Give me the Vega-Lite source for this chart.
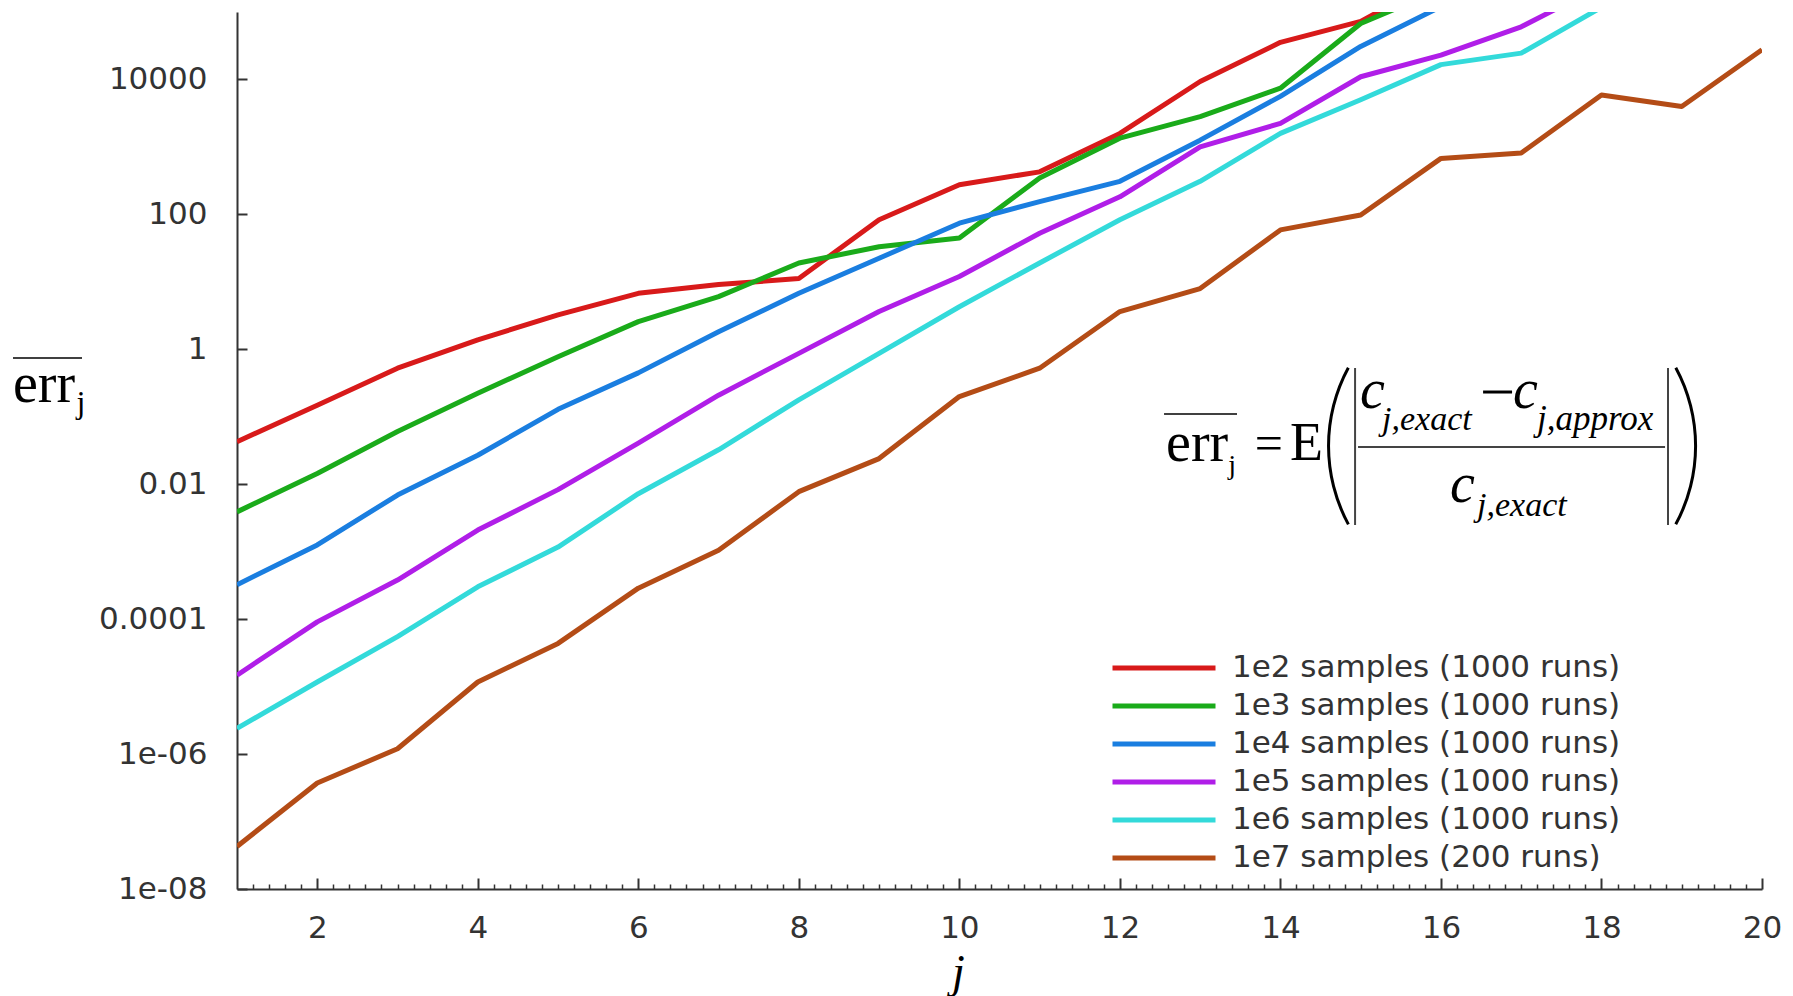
{
  "$schema": "https://vega.github.io/schema/vega-lite/v6.json",
  "width": 1525,
  "height": 877,
  "autosize": {"type": "none"},
  "padding": {"left": 237, "top": 12, "right": 31, "bottom": 107},
  "background": "white",
  "config": {"view": {"stroke": null}, "font": "DejaVu Sans"},
  "resolve": {"axis": {"x": "independent"}},
  "datasets": {
    "err": [
      {"series": "1e2 samples (1000 runs)", "j": 1, "err": 0.0427},
      {"series": "1e2 samples (1000 runs)", "j": 2, "err": 0.148},
      {"series": "1e2 samples (1000 runs)", "j": 3, "err": 0.525},
      {"series": "1e2 samples (1000 runs)", "j": 4, "err": 1.38},
      {"series": "1e2 samples (1000 runs)", "j": 5, "err": 3.24},
      {"series": "1e2 samples (1000 runs)", "j": 6, "err": 6.76},
      {"series": "1e2 samples (1000 runs)", "j": 7, "err": 9.12},
      {"series": "1e2 samples (1000 runs)", "j": 8, "err": 11.2},
      {"series": "1e2 samples (1000 runs)", "j": 9, "err": 83.2},
      {"series": "1e2 samples (1000 runs)", "j": 10, "err": 275},
      {"series": "1e2 samples (1000 runs)", "j": 11, "err": 427},
      {"series": "1e2 samples (1000 runs)", "j": 12, "err": 1585},
      {"series": "1e2 samples (1000 runs)", "j": 13, "err": 9333},
      {"series": "1e2 samples (1000 runs)", "j": 14, "err": 35480},
      {"series": "1e2 samples (1000 runs)", "j": 15, "err": 72440},
      {"series": "1e2 samples (1000 runs)", "j": 16, "err": 323600},
      {"series": "1e3 samples (1000 runs)", "j": 1, "err": 0.00389},
      {"series": "1e3 samples (1000 runs)", "j": 2, "err": 0.01445},
      {"series": "1e3 samples (1000 runs)", "j": 3, "err": 0.0603},
      {"series": "1e3 samples (1000 runs)", "j": 4, "err": 0.224},
      {"series": "1e3 samples (1000 runs)", "j": 5, "err": 0.776},
      {"series": "1e3 samples (1000 runs)", "j": 6, "err": 2.57},
      {"series": "1e3 samples (1000 runs)", "j": 7, "err": 6.03},
      {"series": "1e3 samples (1000 runs)", "j": 8, "err": 19.05},
      {"series": "1e3 samples (1000 runs)", "j": 9, "err": 33.1},
      {"series": "1e3 samples (1000 runs)", "j": 10, "err": 44.7},
      {"series": "1e3 samples (1000 runs)", "j": 11, "err": 346.7},
      {"series": "1e3 samples (1000 runs)", "j": 12, "err": 1349},
      {"series": "1e3 samples (1000 runs)", "j": 13, "err": 2818},
      {"series": "1e3 samples (1000 runs)", "j": 14, "err": 7413},
      {"series": "1e3 samples (1000 runs)", "j": 15, "err": 67610},
      {"series": "1e3 samples (1000 runs)", "j": 16, "err": 213800},
      {"series": "1e4 samples (1000 runs)", "j": 1, "err": 0.000324},
      {"series": "1e4 samples (1000 runs)", "j": 2, "err": 0.00126},
      {"series": "1e4 samples (1000 runs)", "j": 3, "err": 0.00692},
      {"series": "1e4 samples (1000 runs)", "j": 4, "err": 0.0269},
      {"series": "1e4 samples (1000 runs)", "j": 5, "err": 0.129},
      {"series": "1e4 samples (1000 runs)", "j": 6, "err": 0.447},
      {"series": "1e4 samples (1000 runs)", "j": 7, "err": 1.82},
      {"series": "1e4 samples (1000 runs)", "j": 8, "err": 6.76},
      {"series": "1e4 samples (1000 runs)", "j": 9, "err": 22.4},
      {"series": "1e4 samples (1000 runs)", "j": 10, "err": 74.1},
      {"series": "1e4 samples (1000 runs)", "j": 11, "err": 154.9},
      {"series": "1e4 samples (1000 runs)", "j": 12, "err": 309},
      {"series": "1e4 samples (1000 runs)", "j": 13, "err": 1259},
      {"series": "1e4 samples (1000 runs)", "j": 14, "err": 5623},
      {"series": "1e4 samples (1000 runs)", "j": 15, "err": 30900},
      {"series": "1e4 samples (1000 runs)", "j": 16, "err": 120200},
      {"series": "1e5 samples (1000 runs)", "j": 1, "err": 0.0000148},
      {"series": "1e5 samples (1000 runs)", "j": 2, "err": 0.0000912},
      {"series": "1e5 samples (1000 runs)", "j": 3, "err": 0.00038},
      {"series": "1e5 samples (1000 runs)", "j": 4, "err": 0.00209},
      {"series": "1e5 samples (1000 runs)", "j": 5, "err": 0.00832},
      {"series": "1e5 samples (1000 runs)", "j": 6, "err": 0.0407},
      {"series": "1e5 samples (1000 runs)", "j": 7, "err": 0.209},
      {"series": "1e5 samples (1000 runs)", "j": 8, "err": 0.871},
      {"series": "1e5 samples (1000 runs)", "j": 9, "err": 3.63},
      {"series": "1e5 samples (1000 runs)", "j": 10, "err": 12.0},
      {"series": "1e5 samples (1000 runs)", "j": 11, "err": 52.5},
      {"series": "1e5 samples (1000 runs)", "j": 12, "err": 182},
      {"series": "1e5 samples (1000 runs)", "j": 13, "err": 1000},
      {"series": "1e5 samples (1000 runs)", "j": 14, "err": 2239},
      {"series": "1e5 samples (1000 runs)", "j": 15, "err": 10960},
      {"series": "1e5 samples (1000 runs)", "j": 16, "err": 22910},
      {"series": "1e5 samples (1000 runs)", "j": 17, "err": 60260},
      {"series": "1e5 samples (1000 runs)", "j": 18, "err": 245500},
      {"series": "1e6 samples (1000 runs)", "j": 1, "err": 0.0000024},
      {"series": "1e6 samples (1000 runs)", "j": 2, "err": 0.0000117},
      {"series": "1e6 samples (1000 runs)", "j": 3, "err": 0.000055},
      {"series": "1e6 samples (1000 runs)", "j": 4, "err": 0.000302},
      {"series": "1e6 samples (1000 runs)", "j": 5, "err": 0.00117},
      {"series": "1e6 samples (1000 runs)", "j": 6, "err": 0.00724},
      {"series": "1e6 samples (1000 runs)", "j": 7, "err": 0.0324},
      {"series": "1e6 samples (1000 runs)", "j": 8, "err": 0.178},
      {"series": "1e6 samples (1000 runs)", "j": 9, "err": 0.871},
      {"series": "1e6 samples (1000 runs)", "j": 10, "err": 4.27},
      {"series": "1e6 samples (1000 runs)", "j": 11, "err": 19.05},
      {"series": "1e6 samples (1000 runs)", "j": 12, "err": 83.2},
      {"series": "1e6 samples (1000 runs)", "j": 13, "err": 309},
      {"series": "1e6 samples (1000 runs)", "j": 14, "err": 1585},
      {"series": "1e6 samples (1000 runs)", "j": 15, "err": 5012},
      {"series": "1e6 samples (1000 runs)", "j": 16, "err": 16600},
      {"series": "1e6 samples (1000 runs)", "j": 17, "err": 24550},
      {"series": "1e6 samples (1000 runs)", "j": 18, "err": 117500},
      {"series": "1e7 samples (200 runs)", "j": 1, "err": 0.0000000427},
      {"series": "1e7 samples (200 runs)", "j": 2, "err": 0.000000372},
      {"series": "1e7 samples (200 runs)", "j": 3, "err": 0.0000012},
      {"series": "1e7 samples (200 runs)", "j": 4, "err": 0.0000117},
      {"series": "1e7 samples (200 runs)", "j": 5, "err": 0.0000437},
      {"series": "1e7 samples (200 runs)", "j": 6, "err": 0.000288},
      {"series": "1e7 samples (200 runs)", "j": 7, "err": 0.00105},
      {"series": "1e7 samples (200 runs)", "j": 8, "err": 0.00776},
      {"series": "1e7 samples (200 runs)", "j": 9, "err": 0.024},
      {"series": "1e7 samples (200 runs)", "j": 10, "err": 0.1995},
      {"series": "1e7 samples (200 runs)", "j": 11, "err": 0.525},
      {"series": "1e7 samples (200 runs)", "j": 12, "err": 3.63},
      {"series": "1e7 samples (200 runs)", "j": 13, "err": 7.94},
      {"series": "1e7 samples (200 runs)", "j": 14, "err": 58.9},
      {"series": "1e7 samples (200 runs)", "j": 15, "err": 97.7},
      {"series": "1e7 samples (200 runs)", "j": 16, "err": 676},
      {"series": "1e7 samples (200 runs)", "j": 17, "err": 813},
      {"series": "1e7 samples (200 runs)", "j": 18, "err": 5888},
      {"series": "1e7 samples (200 runs)", "j": 19, "err": 3981},
      {"series": "1e7 samples (200 runs)", "j": 20, "err": 27540}
    ]
  },
  "data": {"name": "err"},
  "layer": [
    {
      "mark": {"type": "line", "strokeWidth": 5, "clip": true, "strokeJoin": "round"},
      "encoding": {
        "x": {
          "field": "j",
          "type": "quantitative",
          "scale": {"domain": [1, 20], "nice": false, "zero": false},
          "axis": {
            "orient": "bottom",
            "title": "j",
            "titleFont": "Liberation Serif",
            "titleFontStyle": "italic",
            "titleFontWeight": "normal",
            "titleFontSize": 46,
            "titleColor": "black",
            "titleX": 721,
            "titleY": 97,
            "titleAlign": "center",
            "titleBaseline": "alphabetic",
            "values": [2, 4, 6, 8, 10, 12, 14, 16, 18, 20],
            "format": "d",
            "labelFont": "DejaVu Sans",
            "labelFontSize": 31,
            "labelColor": "#333333",
            "labelPadding": 35,
            "labelOverlap": false,
            "labelFlush": false,
            "labelBound": false,
            "tickSize": -11,
            "tickColor": "#333333",
            "tickWidth": 2,
            "domainColor": "#333333",
            "domainWidth": 2,
            "grid": false
          }
        },
        "y": {
          "field": "err",
          "type": "quantitative",
          "scale": {"type": "log", "domain": [0.00000001, 100000], "nice": false},
          "axis": {
            "title": null,
            "values": [0.00000001, 0.000001, 0.0001, 0.01, 1, 100, 10000],
            "labelExpr": "datum.value < 0.00001 ? replace(format(datum.value, '.0e'), 'e-', 'e-0') : format(datum.value, '~g')",
            "labelFont": "DejaVu Sans",
            "labelFontSize": 31,
            "labelColor": "#333333",
            "labelPadding": 40,
            "labelOverlap": false,
            "labelFlush": false,
            "labelBound": false,
            "tickSize": -10,
            "tickColor": "#333333",
            "tickWidth": 2,
            "domainColor": "#333333",
            "domainWidth": 2,
            "grid": false
          }
        },
        "color": {
          "field": "series",
          "type": "nominal",
          "scale": {
            "domain": ["1e2 samples (1000 runs)", "1e3 samples (1000 runs)", "1e4 samples (1000 runs)", "1e5 samples (1000 runs)", "1e6 samples (1000 runs)", "1e7 samples (200 runs)"],
            "range": ["#d81a1a", "#1aab1a", "#1a7ee0", "#b01ee8", "#33dada", "#b44c16"]
          },
          "legend": {
            "title": null,
            "orient": "none",
            "legendX": 873,
            "legendY": 637,
            "symbolType": "stroke",
            "symbolSize": 10609,
            "symbolStrokeWidth": 5,
            "labelFont": "DejaVu Sans",
            "labelFontSize": 31,
            "labelColor": "#333333",
            "labelOffset": 14,
            "labelLimit": 1000,
            "clipHeight": 38,
            "rowPadding": 0,
            "padding": 0
          }
        }
      }
    },
    {
      "data": {"values": [{}]},
      "mark": {"type": "text", "text": "err", "font": "Liberation Serif", "fontSize": 56, "align": "left", "baseline": "alphabetic", "color": "black"},
      "encoding": {
        "x": {
          "datum": -1.791,
          "type": "quantitative",
          "axis": {
            "orient": "bottom",
            "title": null,
            "values": [1.2, 1.4, 1.6, 1.8, 2.2, 2.4, 2.6, 2.8, 3, 3.2, 3.4, 3.6, 3.8, 4.2, 4.4, 4.6, 4.8, 5, 5.2, 5.4, 5.6, 5.8, 6.2, 6.4, 6.6, 6.8, 7, 7.2, 7.4, 7.6, 7.8, 8.2, 8.4, 8.6, 8.8, 9, 9.2, 9.4, 9.6, 9.8, 10.2, 10.4, 10.6, 10.8, 11, 11.2, 11.4, 11.6, 11.8, 12.2, 12.4, 12.6, 12.8, 13, 13.2, 13.4, 13.6, 13.8, 14.2, 14.4, 14.6, 14.8, 15, 15.2, 15.4, 15.6, 15.8, 16.2, 16.4, 16.6, 16.8, 17, 17.2, 17.4, 17.6, 17.8, 18.2, 18.4, 18.6, 18.8, 19, 19.2, 19.4, 19.6, 19.8],
            "labels": false,
            "domain": false,
            "grid": false,
            "tickSize": -5,
            "tickColor": "#333333",
            "tickWidth": 1.5
          }
        },
        "y": {"datum": 0.1655, "type": "quantitative"}
      }
    },
    {
      "data": {"values": [{}]},
      "mark": {"type": "text", "text": "j", "font": "Liberation Serif", "fontSize": 32, "align": "left", "baseline": "alphabetic", "color": "black"},
      "encoding": {"x": {"datum": -1.0, "type": "quantitative", "axis": null}, "y": {"datum": 0.1137, "type": "quantitative"}}
    },
    {
      "data": {"values": [{}]},
      "mark": {"type": "rule", "strokeWidth": 1.5, "color": "black"},
      "encoding": {"x": {"datum": -1.791, "type": "quantitative", "axis": null}, "x2": {"datum": -0.931}, "y": {"datum": 0.743, "type": "quantitative"}}
    },
    {
      "data": {"values": [{}]},
      "mark": {"type": "rule", "strokeWidth": 1.5, "color": "black"},
      "encoding": {"x": {"datum": 12.55, "type": "quantitative", "axis": null}, "x2": {"datum": 13.459}, "y": {"datum": 0.1099, "type": "quantitative"}}
    },
    {
      "data": {"values": [{}]},
      "mark": {"type": "text", "text": "err", "font": "Liberation Serif", "fontSize": 56, "align": "left", "baseline": "alphabetic", "color": "black"},
      "encoding": {"x": {"datum": 12.575, "type": "quantitative", "axis": null}, "y": {"datum": 0.0221, "type": "quantitative"}}
    },
    {
      "data": {"values": [{}]},
      "mark": {"type": "text", "text": "j", "font": "Liberation Serif", "fontSize": 28, "align": "left", "baseline": "alphabetic", "color": "black"},
      "encoding": {"x": {"datum": 13.35, "type": "quantitative", "axis": null}, "y": {"datum": 0.01417, "type": "quantitative"}}
    },
    {
      "data": {"values": [{}]},
      "mark": {"type": "text", "text": "=", "font": "Liberation Serif", "fontSize": 50, "align": "left", "baseline": "alphabetic", "color": "black"},
      "encoding": {"x": {"datum": 13.68, "type": "quantitative", "axis": null}, "y": {"datum": 0.02285, "type": "quantitative"}}
    },
    {
      "data": {"values": [{}]},
      "mark": {"type": "text", "text": "E", "font": "Liberation Serif", "fontSize": 54, "align": "left", "baseline": "alphabetic", "color": "black"},
      "encoding": {"x": {"datum": 14.12, "type": "quantitative", "axis": null}, "y": {"datum": 0.02285, "type": "quantitative"}}
    },
    {
      "data": {"values": [{}]},
      "mark": {"type": "arc", "theta": 4.216, "theta2": 5.208, "radius": 166, "radius2": 163, "color": "black"},
      "encoding": {"x": {"datum": 16.649, "type": "quantitative", "axis": null}, "y": {"datum": 0.03686, "type": "quantitative"}}
    },
    {
      "data": {"values": [{}]},
      "mark": {"type": "arc", "theta": 1.075, "theta2": 2.067, "radius": 166, "radius2": 163, "color": "black"},
      "encoding": {"x": {"datum": 17.123, "type": "quantitative", "axis": null}, "y": {"datum": 0.03686, "type": "quantitative"}}
    },
    {
      "data": {"values": [{}]},
      "mark": {"type": "rule", "strokeWidth": 2, "color": "#444444"},
      "encoding": {"x": {"datum": 14.93, "type": "quantitative", "axis": null}, "y": {"datum": 0.528, "type": "quantitative"}, "y2": {"datum": 0.002486}}
    },
    {
      "data": {"values": [{}]},
      "mark": {"type": "rule", "strokeWidth": 2, "color": "#444444"},
      "encoding": {"x": {"datum": 18.829, "type": "quantitative", "axis": null}, "y": {"datum": 0.528, "type": "quantitative"}, "y2": {"datum": 0.002486}}
    },
    {
      "data": {"values": [{}]},
      "mark": {"type": "rule", "strokeWidth": 2, "color": "#444444"},
      "encoding": {"x": {"datum": 14.967, "type": "quantitative", "axis": null}, "x2": {"datum": 18.792}, "y": {"datum": 0.03561, "type": "quantitative"}}
    },
    {
      "data": {"values": [{}]},
      "mark": {"type": "rule", "strokeWidth": 3, "color": "black"},
      "encoding": {"x": {"datum": 16.525, "type": "quantitative", "axis": null}, "x2": {"datum": 16.886}, "y": {"datum": 0.2328, "type": "quantitative"}}
    },
    {
      "data": {"values": [{}]},
      "mark": {"type": "text", "text": "c", "font": "Liberation Serif", "fontStyle": "italic", "fontSize": 56, "align": "left", "baseline": "alphabetic", "color": "black"},
      "encoding": {"x": {"datum": 14.992, "type": "quantitative", "axis": null}, "y": {"datum": 0.1349, "type": "quantitative"}}
    },
    {
      "data": {"values": [{}]},
      "mark": {"type": "text", "text": "j,exact", "font": "Liberation Serif", "fontStyle": "italic", "fontSize": 34, "align": "left", "baseline": "alphabetic", "color": "black"},
      "encoding": {"x": {"datum": 15.266, "type": "quantitative", "axis": null}, "y": {"datum": 0.0636, "type": "quantitative"}}
    },
    {
      "data": {"values": [{}]},
      "mark": {"type": "text", "text": "c", "font": "Liberation Serif", "fontStyle": "italic", "fontSize": 56, "align": "left", "baseline": "alphabetic", "color": "black"},
      "encoding": {"x": {"datum": 16.898, "type": "quantitative", "axis": null}, "y": {"datum": 0.1349, "type": "quantitative"}}
    },
    {
      "data": {"values": [{}]},
      "mark": {"type": "text", "text": "j,approx", "font": "Liberation Serif", "fontStyle": "italic", "fontSize": 35, "align": "left", "baseline": "alphabetic", "color": "black"},
      "encoding": {"x": {"datum": 17.197, "type": "quantitative", "axis": null}, "y": {"datum": 0.0636, "type": "quantitative"}}
    },
    {
      "data": {"values": [{}]},
      "mark": {"type": "text", "text": "c", "font": "Liberation Serif", "fontStyle": "italic", "fontSize": 56, "align": "left", "baseline": "alphabetic", "color": "black"},
      "encoding": {"x": {"datum": 16.113, "type": "quantitative", "axis": null}, "y": {"datum": 0.005449, "type": "quantitative"}}
    },
    {
      "data": {"values": [{}]},
      "mark": {"type": "text", "text": "j,exact", "font": "Liberation Serif", "fontStyle": "italic", "fontSize": 34, "align": "left", "baseline": "alphabetic", "color": "black"},
      "encoding": {"x": {"datum": 16.45, "type": "quantitative", "axis": null}, "y": {"datum": 0.00338, "type": "quantitative"}}
    }
  ]
}
